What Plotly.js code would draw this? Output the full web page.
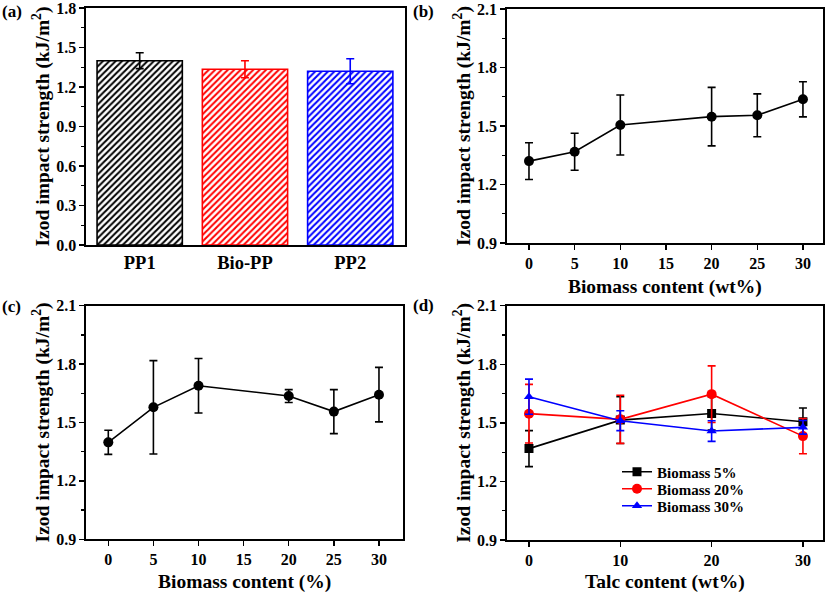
<!DOCTYPE html>
<html>
<head>
<meta charset="utf-8">
<script src="https://cdn.plot.ly/plotly-3.0.1.min.js"></script>
<style>html,body{margin:0;padding:0;background:#fff;}#chart{width:827px;height:593px;}</style>
</head>
<body>
<div id="chart"></div>
<script>
// Panel (a)
const barCats = ['PP1', 'Bio-PP', 'PP2'];
const barVals = [1.40, 1.335, 1.32];
const barErr = [0.06, 0.065, 0.095];
const barColors = ['#000000', '#ff0000', '#0000ff'];

// Panel (b)
const bX = [0, 5, 10, 20, 25, 30];
const bY = [1.32, 1.368, 1.505, 1.548, 1.555, 1.637];
const bErr = [0.094, 0.095, 0.154, 0.15, 0.11, 0.09];

// Panel (c)
const cX = [0, 5, 10, 20, 25, 30];
const cY = [1.398, 1.578, 1.689, 1.636, 1.556, 1.643];
const cErr = [0.062, 0.24, 0.14, 0.033, 0.113, 0.14];

// Panel (d)
const dX = [0, 10, 20, 30];
const d5Y = [1.368, 1.514, 1.548, 1.506];
const d5Err = [0.092, 0.12, 0.085, 0.07];
const d20Y = [1.547, 1.518, 1.647, 1.432];
const d20Err = [0.15, 0.123, 0.145, 0.09];
const d30Y = [1.634, 1.511, 1.458, 1.477];
const d30Err = [0.09, 0.051, 0.053, 0.035];

// tick labels
const yTicksA = ['0.0', '0.3', '0.6', '0.9', '1.2', '1.5', '1.8'];
const yTicksB = ['0.9', '1.2', '1.5', '1.8', '2.1'];
const xTicksBC = ['0', '5', '10', '15', '20', '25', '30'];
const xTicksD = ['0', '10', '20', '30'];

const FONT = 'Liberation Serif, Times New Roman, serif';
const tickFont = {family: FONT, size: 16, color: '#000'};
const titleFont = {family: FONT, size: 19.5, color: '#000'};
const yTitle = '<b>Izod impact strength (kJ/m<sup>2</sup>)</b>';

function errY(arr, color) {
  return {type: 'data', array: arr, visible: true, color: color, thickness: 1.6, width: 4};
}

const traces = [];
barCats.forEach((c, i) => {
  traces.push({
    type: 'bar', x: [c], y: [barVals[i]], xaxis: 'x', yaxis: 'y', showlegend: false,
    width: 0.81,
    marker: {color: '#ffffff', line: {color: barColors[i], width: 1.6},
      pattern: {shape: '/', fgcolor: barColors[i], bgcolor: '#ffffff', size: 4.5, solidity: 0.45}},
    error_y: errY([barErr[i]], barColors[i])
  });
});

function lineTrace(x, y, e, color, sym, xa, ya, name, legend, lg) {
  const t = {
    type: 'scatter', mode: 'lines+markers', x: x, y: y, xaxis: xa, yaxis: ya,
    name: name, showlegend: legend,
    line: {color: color, width: 1.6},
    marker: {color: color, size: sym === 'circle' ? 10 : 9, symbol: sym},
    error_y: errY(e, color)
  };
  if (lg) t.legend = lg;
  return t;
}

traces.push(lineTrace(bX, bY, bErr, '#000', 'circle', 'x2', 'y2', 'b', false));
traces.push(lineTrace(cX, cY, cErr, '#000', 'circle', 'x3', 'y3', 'c', false));
traces.push(lineTrace(dX, d5Y, d5Err, '#000', 'square', 'x4', 'y4', '<b>Biomass 5%</b>', true, 'legend'));
traces.push(lineTrace(dX, d20Y, d20Err, '#ff0000', 'circle', 'x4', 'y4', '<b>Biomass 20%</b>', true, 'legend2'));
traces.push(lineTrace(dX, d30Y, d30Err, '#0000ff', 'triangle-up', 'x4', 'y4', '<b>Biomass 30%</b>', true, 'legend3'));

const tlab = t => '<b>' + t + '</b>';

function yAxis(domain, anchor, range, labels) {
  return {
    domain: domain, anchor: anchor, range: range,
    tickmode: 'array', tickvals: labels.map(Number), ticktext: labels.map(tlab),
    ticklabeloverflow: 'allow',
    showgrid: false, zeroline: false,
    showline: true, linecolor: '#000', linewidth: 1.6, mirror: true,
    ticks: 'outside', ticklen: 5, tickwidth: 1.5, tickcolor: '#000',
    tickfont: tickFont,
    minor: {dtick: 0.15, tick0: 0, ticks: 'outside', ticklen: 3, tickwidth: 1.2, tickcolor: '#000', showgrid: false},
    title: {text: yTitle, font: titleFont, standoff: 1}
  };
}
function xAxis(domain, anchor, range, labels, title, standoff) {
  return {
    domain: domain, anchor: anchor, range: range,
    tickmode: 'array', tickvals: labels.map(Number), ticktext: labels.map(tlab),
    ticklabeloverflow: 'allow',
    showgrid: false, zeroline: false,
    showline: true, linecolor: '#000', linewidth: 1.6, mirror: true,
    ticks: 'outside', ticklen: 5, tickwidth: 1.5, tickcolor: '#000',
    tickfont: tickFont,
    title: {text: title, font: titleFont, standoff: standoff}
  };
}

function legendAt(yPix) {
  return {
    x: 617/827, y: 1 - yPix/593, xanchor: 'left', yanchor: 'middle',
    bgcolor: 'rgba(0,0,0,0)', borderwidth: 0,
    font: {family: FONT, size: 15, color: '#000'}
  };
}

function panelLabel(t, xPix, yPix) {
  return {text: '<b>' + t + '</b>', x: xPix/827, y: 1 - yPix/593, xref: 'paper', yref: 'paper',
    xanchor: 'left', yanchor: 'middle', showarrow: false, font: {family: FONT, size: 17, color: '#000'}};
}

const layout = {
  width: 827, height: 593,
  margin: {l: 0, r: 0, t: 0, b: 0},
  paper_bgcolor: '#fff', plot_bgcolor: '#fff',
  font: {family: FONT, color: '#000'},
  xaxis: {
    domain: [0.104, 0.4897], anchor: 'y', type: 'category', range: [-0.51, 2.52],
    showgrid: false, zeroline: false, showline: true, linecolor: '#000', linewidth: 1.6, mirror: true,
    ticks: '', tickfont: {family: FONT, size: 18.5, color: '#000'},
    tickvals: barCats, ticktext: barCats.map(tlab)
  },
  yaxis: yAxis([0.5868, 0.9865], 'x', [0, 1.8001], yTicksA),
  xaxis2: xAxis([0.6127, 0.9952], 'y2', [-2.44, 32.2], xTicksBC, '<b>Biomass content (wt%)</b>', 8),
  yaxis2: yAxis([0.5902, 0.9848], 'x2', [0.9, 2.1001], yTicksB),
  xaxis3: xAxis([0.104, 0.4877], 'y3', [-2.47, 32.7], xTicksBC, '<b>Biomass content (%)</b>', 12),
  yaxis3: yAxis([0.0906, 0.4845], 'x3', [0.9, 2.1001], yTicksB),
  xaxis4: xAxis([0.6127, 0.9952], 'y4', [-2.44, 32.2], xTicksD, '<b>Talc content (wt%)</b>', 12),
  yaxis4: yAxis([0.0894, 0.4845], 'x4', [0.9, 2.1001], yTicksB),
  legend: legendAt(472),
  legend2: legendAt(489),
  legend3: legendAt(506),
  annotations: [
    panelLabel('(a)', 0, 12),
    panelLabel('(b)', 411, 12),
    panelLabel('(c)', 0, 306),
    panelLabel('(d)', 411, 305)
  ]
};

Plotly.newPlot('chart', traces, layout, {displayModeBar: false, staticPlot: true});
</script>
</body>
</html>
